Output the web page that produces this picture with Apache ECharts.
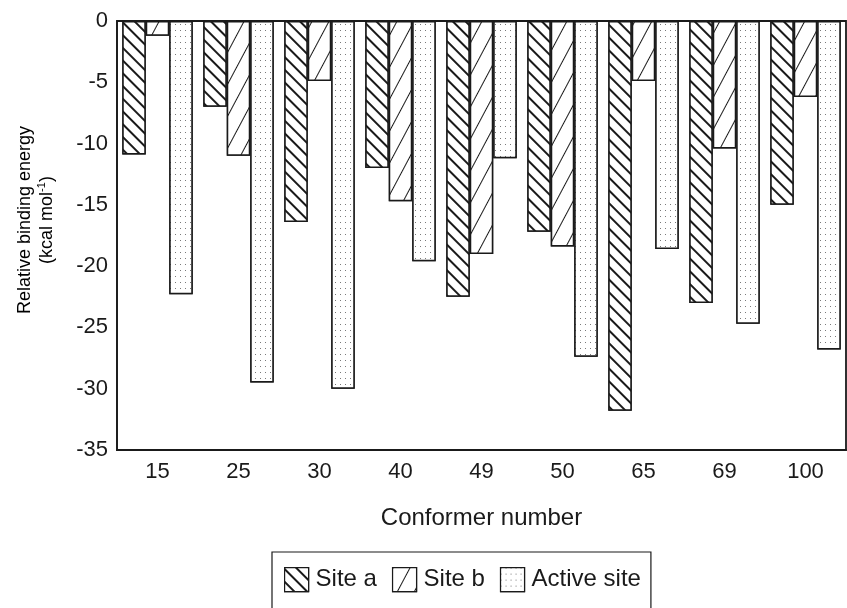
<!DOCTYPE html>
<html>
<head>
<meta charset="utf-8">
<script src="https://cdn.jsdelivr.net/npm/echarts@6/dist/echarts.min.js"></script>
<style>
  html, body { margin: 0; padding: 0; background: #fff; }
  #chart { width: 847px; height: 608px; }
</style>
</head>
<body>
<div id="chart"></div>
<script>
// Relative binding energies (kcal/mol) per conformer
const conformers = ['15', '25', '30', '40', '49', '50', '65', '69', '100'];
const siteA = [-10.9, -7.0, -16.4, -12.0, -22.5, -17.2, -31.8, -23.0, -15.0];
const siteB = [-1.2, -11.0, -4.9, -14.7, -19.0, -18.4, -4.9, -10.4, -6.2];
const activeSite = [-22.3, -29.5, -30.0, -19.6, -11.2, -27.4, -18.6, -24.7, -26.8];
const seriesNames = ['Site a', 'Site b', 'Active site'];

const FONT = '"Liberation Sans", Arial, Helvetica, sans-serif';
const INK = '#1a1a1a';

// back-slash hatching for site a
const hatchA = {
  symbol: 'rect', symbolSize: 1, color: INK, backgroundColor: '#fff',
  dashArrayX: [1, 0], dashArrayY: [2, 7], rotation: Math.PI / 4
};
// steep forward-slash hatching for site b
const hatchB = {
  symbol: 'rect', symbolSize: 1, color: INK, backgroundColor: '#fff',
  dashArrayX: [1, 0], dashArrayY: [1, 14], rotation: -Math.PI * 62 / 180
};
// light dot stipple for the active site
const dots = {
  symbol: 'rect', symbolSize: 1, color: '#7a7a7a', backgroundColor: '#fff',
  dashArrayX: [1, 4], dashArrayY: [1, 5], rotation: 0
};

function barSeries(name, data, decal) {
  return {
    name: name,
    type: 'bar',
    data: data,
    barGap: 0,
    barCategoryGap: '13%',
    itemStyle: { color: '#fff', borderColor: INK, borderWidth: 1.5, decal: decal },
    emphasis: { disabled: true }
  };
}

const chart = echarts.init(document.getElementById('chart'), null, { renderer: 'canvas' });
chart.setOption({
  animation: false,
  aria: { enabled: false },
  backgroundColor: '#fff',
  grid: {
    left: 117, top: 21, right: 1, bottom: 158,
    show: true, borderColor: INK, borderWidth: 1.8, backgroundColor: 'transparent'
  },
  legend: {
    data: seriesNames,
    left: 272, top: 552,
    padding: [15, 10, 30, 12],
    borderColor: INK, borderWidth: 1.2,
    itemWidth: 24, itemHeight: 24, itemGap: 15,
    icon: 'rect',
    textStyle: { fontFamily: FONT, fontSize: 24, color: INK, padding: [0, 0, 0, 2] },
    itemStyle: { borderColor: INK, borderWidth: 1.2 }
  },
  xAxis: {
    type: 'category',
    data: conformers,
    position: 'bottom',
    axisLine: { show: true, onZero: false, lineStyle: { color: INK, width: 1.8 } },
    axisTick: { show: false },
    axisLabel: { fontFamily: FONT, fontSize: 22, color: INK, margin: 11 },
    name: 'Conformer number',
    nameLocation: 'middle',
    nameGap: 56,
    nameTextStyle: { fontFamily: FONT, fontSize: 24, color: INK }
  },
  yAxis: {
    type: 'value',
    min: -35, max: 0, interval: 5,
    axisLine: { show: true, lineStyle: { color: INK, width: 1.5 } },
    axisTick: { show: false },
    splitLine: { show: false },
    axisLabel: { fontFamily: FONT, fontSize: 22, color: INK, margin: 9 }
  },
  graphic: [{
    type: 'text',
    x: 36, y: 220,
    rotation: Math.PI / 2,
    style: {
      text: '{t|Relative binding energy}\n{t|(kcal mol}{s|-1}{t|)}',
      align: 'center', verticalAlign: 'middle',
      rich: {
        t: { fontFamily: FONT, fontSize: 18, color: INK, lineHeight: 22 },
        s: { fontFamily: FONT, fontSize: 11, color: INK, lineHeight: 22, verticalAlign: 'top' }
      }
    }
  }],
  series: [
    barSeries(seriesNames[0], siteA, hatchA),
    barSeries(seriesNames[1], siteB, hatchB),
    barSeries(seriesNames[2], activeSite, dots)
  ]
});
</script>
</body>
</html>
